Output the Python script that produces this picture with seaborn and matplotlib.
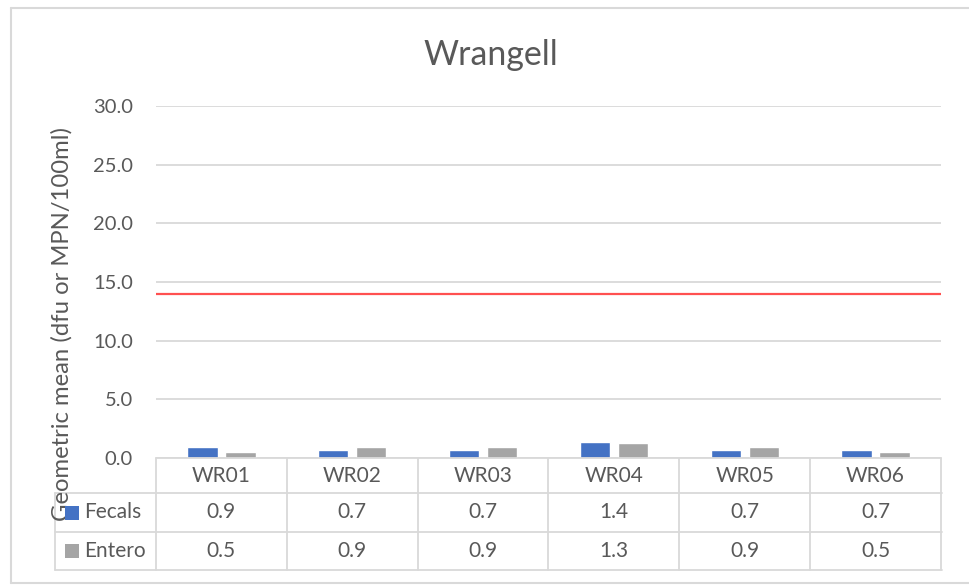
import matplotlib
matplotlib.use("Agg")
import matplotlib.pyplot as plt
import matplotlib.transforms as mtrans
from matplotlib.lines import Line2D
from matplotlib.patches import Rectangle
import seaborn as sns
import pandas as pd

# ---- data ----
sites = ["WR01", "WR02", "WR03", "WR04", "WR05", "WR06"]
series_names = ["Fecals", "Entero"]
fecals = [0.9, 0.7, 0.7, 1.4, 0.7, 0.7]
entero = [0.5, 0.9, 0.9, 1.3, 0.9, 0.5]
threshold = 14.0
yticks = [0, 5, 10, 15, 20, 25, 30]
title = "Wrangell"
ylabel = "Geometric mean (dfu or MPN/100ml)"

colors = ["#4472C4", "#A5A5A5"]
text_color = "#595959"
line_color = "#D9D9D9"

W, H = 969, 585
sns.set_style("white")
plt.rcParams['font.family'] = ['Lato', 'DejaVu Sans']

fig = plt.figure(figsize=(W / 100, H / 100), dpi=100)


def fx(px):
    return px / W


def fy(py):
    return 1 - py / H


ax = fig.add_axes([fx(156), fy(458), fx(941) - fx(156), fy(106) - fy(458)])

df = pd.DataFrame({
    "site": sites * 2,
    "value": fecals + entero,
    "series": [series_names[0]] * len(sites) + [series_names[1]] * len(sites),
})
sns.barplot(data=df, x="site", y="value", hue="series", palette=colors,
            width=0.58, gap=0.2, saturation=1, errorbar=None,
            legend=False, ax=ax, zorder=3)

ax.set_xlim(-0.5, len(sites) - 0.5)
ax.set_ylim(0, 30)
ax.set_yticks(yticks)
ax.set_yticklabels([f"{v:.1f}" for v in yticks], color=text_color, fontsize=14.5)
ax.tick_params(axis="y", length=0, pad=16.5)
ax.set_xticks([])
ax.set_xlabel("")
ax.set_ylabel("")
for s in ax.spines.values():
    s.set_visible(False)
ax.yaxis.grid(True, color=line_color, lw=1.3, zorder=0)
ax.set_axisbelow(True)
ax.axhline(threshold, color="#FF5050", lw=1.6, zorder=4)

# title
fig.text(fx(491), fy(65), title, ha="center", va="baseline", fontsize=24.4, color=text_color)
# y label
fig.text(fx(62), fy(324), ylabel, ha="center", va="center", rotation=90,
         fontsize=17.2, color=text_color)

# ---- data table ----
bt = mtrans.blended_transform_factory(ax.transData, fig.transFigure)
ft = fig.transFigure
lw = 1.3
row_y = [458, 493, 532, 570]
xl, xr = -0.5, len(sites) - 0.5
fig.add_artist(Line2D([xl, xr], [fy(458), fy(458)], transform=bt, color=line_color, lw=lw))
for yy in row_y[1:]:
    fig.add_artist(Line2D([fx(55), fx(942)], [fy(yy), fy(yy)], transform=ft, color=line_color, lw=lw))
fig.add_artist(Line2D([fx(55), fx(55)], [fy(493), fy(570)], transform=ft, color=line_color, lw=lw))
for i in range(len(sites) + 1):
    xv = i - 0.5
    fig.add_artist(Line2D([xv, xv], [fy(458), fy(570)], transform=bt, color=line_color, lw=lw))

tfs = 15
centers = [(row_y[k] + row_y[k + 1]) / 2 for k in range(3)]
for i, s in enumerate(sites):
    fig.text(i, fy(centers[0]), s, transform=bt, ha="center", va="center",
             fontsize=tfs, color=text_color)
    fig.text(i, fy(centers[1]), f"{fecals[i]:.1f}", transform=bt, ha="center", va="center",
             fontsize=tfs, color=text_color)
    fig.text(i, fy(centers[2]), f"{entero[i]:.1f}", transform=bt, ha="center", va="center",
             fontsize=tfs, color=text_color)

for k, (name, c) in enumerate(zip(series_names, colors)):
    cy = centers[k + 1]
    fig.add_artist(Rectangle((fx(65), fy(cy + 7)), fx(14), 14 / H, transform=ft,
                             facecolor=c, edgecolor="none", zorder=5))
    fig.text(fx(84), fy(cy), name, ha="left", va="center", fontsize=tfs, color=text_color)

# outer border
fig.add_artist(Line2D([fx(11), fx(11)], [fy(8), fy(583)], transform=ft, color=line_color, lw=1.5))
fig.add_artist(Line2D([fx(11), 1.0], [fy(8), fy(8)], transform=ft, color=line_color, lw=1.5))
fig.add_artist(Line2D([fx(11), 1.0], [fy(583), fy(583)], transform=ft, color=line_color, lw=1.5))

fig.savefig("out.png", dpi=100, facecolor="white")
